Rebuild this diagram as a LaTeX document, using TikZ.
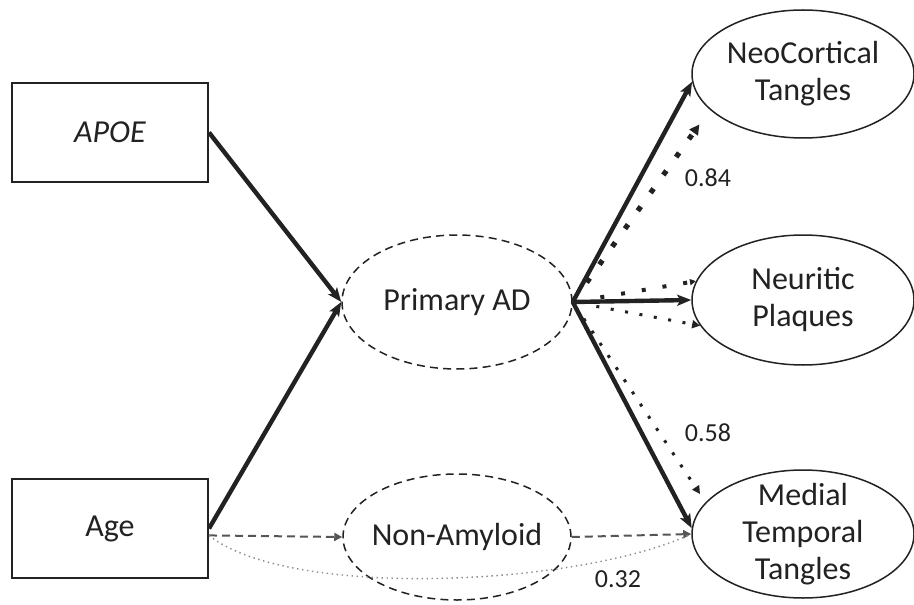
\documentclass[tikz,border=0pt]{standalone}
\usepackage{fontspec}
\setmainfont{Carlito}
\usetikzlibrary{arrows.meta,shapes.geometric}
\definecolor{ink}{HTML}{222222}
\definecolor{dashgray}{HTML}{555555}
\definecolor{dotgray}{HTML}{8A8A8A}
\begin{document}
\begin{tikzpicture}[x=0.5pt,y=-0.5pt,
  box/.style={draw=ink,line width=1pt,rectangle,minimum width=98pt,minimum height=49.5pt,inner sep=0pt,text=ink,font=\fontsize{16}{19}\selectfont},
  ell/.style={draw=ink,line width=0.75pt,ellipse,inner sep=0pt},
  etext/.style={align=center,text=ink,font=\fontsize{16}{18.5}\selectfont},
  latent/.style={ell,dash pattern=on 4pt off 2.6pt},
  strong/.style={draw=ink,line width=2.2pt,-{Stealth[length=7pt,width=5.5pt,inset=1.5pt]}},
  bigdots/.style={draw=ink,line width=2.6pt,dash pattern=on 2.6pt off 8.4pt,-{Triangle[length=5pt,width=5pt]}},
  meddots/.style={draw=ink,line width=2pt,dash pattern=on 2pt off 8.5pt,-{Triangle[length=3pt,width=3pt]}},
  smalldots/.style={draw=ink,line width=1.5pt,dash pattern=on 1.5pt off 5.8pt,-{Triangle[length=4pt,width=4pt]}},
  grdash/.style={draw=dashgray,line width=1pt,dash pattern=on 4pt off 2.5pt,-{Triangle[length=4pt,width=4pt]}},
  grdot/.style={draw=dotgray,line width=0.7pt,dash pattern=on 0.7pt off 1.8pt},
  coef/.style={text=ink,font=\fontsize{13}{15}\selectfont,inner sep=0pt}
]
\useasboundingbox[fill=white] (0,0) rectangle (914,604);

% observed boxes
\node[box] (apoe) at (110,132.5) {\textit{APOE}};
\node[box] (age) at (110,528.5) {Age};

% latent ellipses
\node[latent,minimum width=115pt,minimum height=67pt,
  label={[name=padt,etext]center:Primary AD}] (pad) at (457,302) {};
\node[latent,minimum width=114pt,minimum height=63pt,
  label={[name=namt,etext]center:Non-Amyloid}] (nam) at (457,537) {};

% outcome ellipses
\node[ell,minimum width=111pt,minimum height=64pt,
  label={[name=neot,etext]center:NeoCortical\\Tangles}] (neo) at (803,74) {};
\node[ell,minimum width=111pt,minimum height=65pt,
  label={[name=neut,etext]center:Neuritic\\Plaques}] (neu) at (803,300) {};
\node[ell,minimum width=111pt,minimum height=64pt,
  label={[name=medt,etext]center:Medial\\Temporal\\Tangles}] (med) at (803,534) {};

% solid paths
\draw[strong] (apoe.east) -- (pad.west);
\draw[strong] (age.east) -- (pad.west);
\draw[strong] (pad.east) -- (neo.184);
\draw[strong] (pad.east) -- (neu.west);
\draw[strong] (pad.east) -- (med.177);

% dotted paths
\draw[bigdots,shorten <=12pt,shorten >=9pt] (pad.east) -- (neo.201);
\draw[meddots,shorten <=14pt] (pad.east) -- (neu.170);
\draw[smalldots,shorten <=12pt] (pad.east) -- (neu.194);
\draw[smalldots,shorten <=10pt,shorten >=5pt] (pad.east) -- (med.162);

% non-amyloid paths
\draw[grdash] (age.-4) -- (nam.west);
\draw[grdash] (nam.east) -- (med.west);
\draw[grdot] (age.-4) .. controls (290,600) and (580,586) .. (med.west);

% coefficients
\node[coef] (c84) at (708,178) {0.84};
\node[coef] (c58) at (708,433) {0.58};
\node[coef] (c32) at (618,579) {0.32};
\end{tikzpicture}
\end{document}
